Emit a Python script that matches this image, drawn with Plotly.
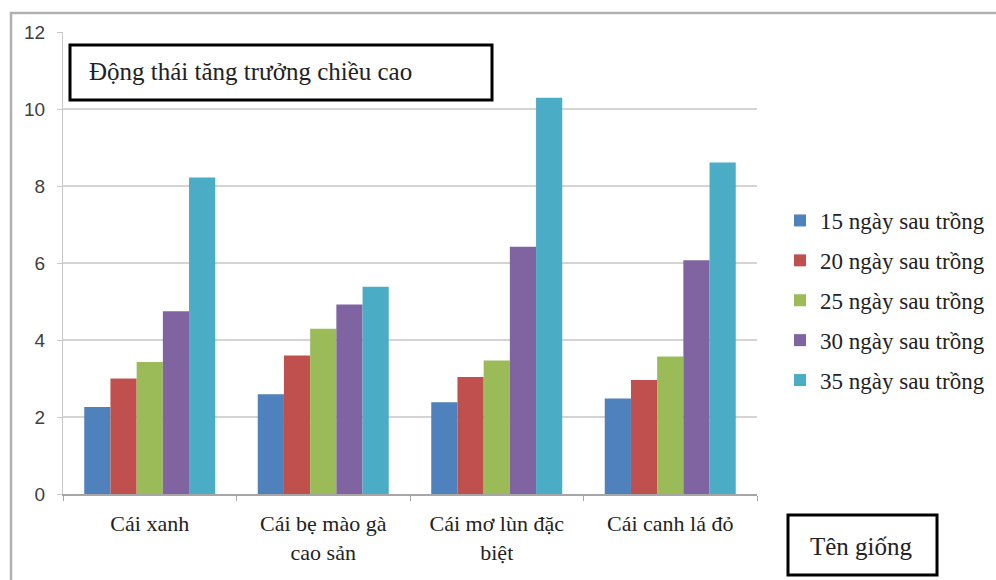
import plotly.graph_objects as go

categories = ["Cái xanh", "Cái bẹ mào gà<br>cao sản", "Cái mơ lùn đặc<br>biệt", "Cái canh lá đỏ"]
series_names = ["15 ngày sau trồng", "20 ngày sau trồng", "25 ngày sau trồng",
                "30 ngày sau trồng", "35 ngày sau trồng"]
d15 = [2.26, 2.59, 2.38, 2.48]
d20 = [3.00, 3.60, 3.04, 2.96]
d25 = [3.43, 4.29, 3.47, 3.57]
d30 = [4.75, 4.92, 6.42, 6.07]
d35 = [8.22, 5.38, 10.29, 8.61]
colors = ["#4F81BD", "#C0504D", "#9BBB59", "#8064A2", "#4BACC6"]
y_ticks = [0, 2, 4, 6, 8, 10, 12]
title_text = "Động thái tăng trưởng chiều cao"
xaxis_label = "Tên giống"

W, H = 996, 580
L, R, T, B = 63, 239, 32, 86
PW, PH = W - L - R, H - T - B


def px(x):
    return (x - L) / PW


def py(y):
    return (H - B - y) / PH


fig = go.Figure()
for name, vals, col in zip(series_names, [d15, d20, d25, d30, d35], colors):
    fig.add_trace(go.Bar(x=categories, y=vals, name=name, marker_color=col,
                         marker_line_width=0, legendgroup=name))

serif = "Liberation Serif"
fig.update_layout(
    width=W, height=H,
    margin=dict(l=L, r=R, t=T, b=B, autoexpand=False),
    paper_bgcolor="white", plot_bgcolor="white",
    barmode="group", bargap=0.245, bargroupgap=0,
    showlegend=True,
    legend=dict(x=px(780), y=py(199), xanchor="left", yanchor="top",
                font=dict(family=serif, size=23, color="#222222"),
                traceorder="grouped", tracegroupgap=7,
                bgcolor="rgba(0,0,0,0)"),
    xaxis=dict(showline=True, linecolor="#a6a6a6", linewidth=1.5,
               ticks="outside", tickson="boundaries", ticklen=5, tickcolor="#a6a6a6",
               ticklabelstandoff=9,
               tickfont=dict(family=serif, size=22, color="#222222"),
               showgrid=False, zeroline=False),
    yaxis=dict(range=[0, 12], tickvals=y_ticks, showline=True, linecolor="#c8c8c8",
               linewidth=1, ticks="outside", ticklen=5, tickcolor="#c8c8c8",
               ticklabelstandoff=8,
               showgrid=True, gridcolor="#d4d4d4", gridwidth=1.5, zeroline=False,
               tickfont=dict(family="Liberation Sans", size=19, color="#404040")),
)

shapes = [
    dict(type="rect", xref="paper", yref="paper", x0=px(11), x1=px(1002), y0=py(590), y1=py(13),
         line=dict(color="#b0b0b0", width=2.5), fillcolor="rgba(0,0,0,0)", layer="above"),
    dict(type="rect", xref="paper", yref="paper", x0=px(70), x1=px(492), y0=py(100), y1=py(45),
         line=dict(color="black", width=3), fillcolor="white", layer="above"),
    dict(type="rect", xref="paper", yref="paper", x0=px(788), x1=px(937), y0=py(575), y1=py(515),
         line=dict(color="black", width=3), fillcolor="white", layer="above"),
]
fig.update_layout(shapes=shapes)

fig.add_annotation(text=title_text, xref="paper", yref="paper", x=px(87), y=py(72),
                   xanchor="left", yanchor="middle", showarrow=False,
                   font=dict(family=serif, size=25, color="#222222"))
fig.add_annotation(text=xaxis_label, xref="paper", yref="paper", x=px(861), y=py(546),
                   xanchor="center", yanchor="middle", showarrow=False,
                   font=dict(family=serif, size=25, color="#222222"))

fig.write_html("out.html")
